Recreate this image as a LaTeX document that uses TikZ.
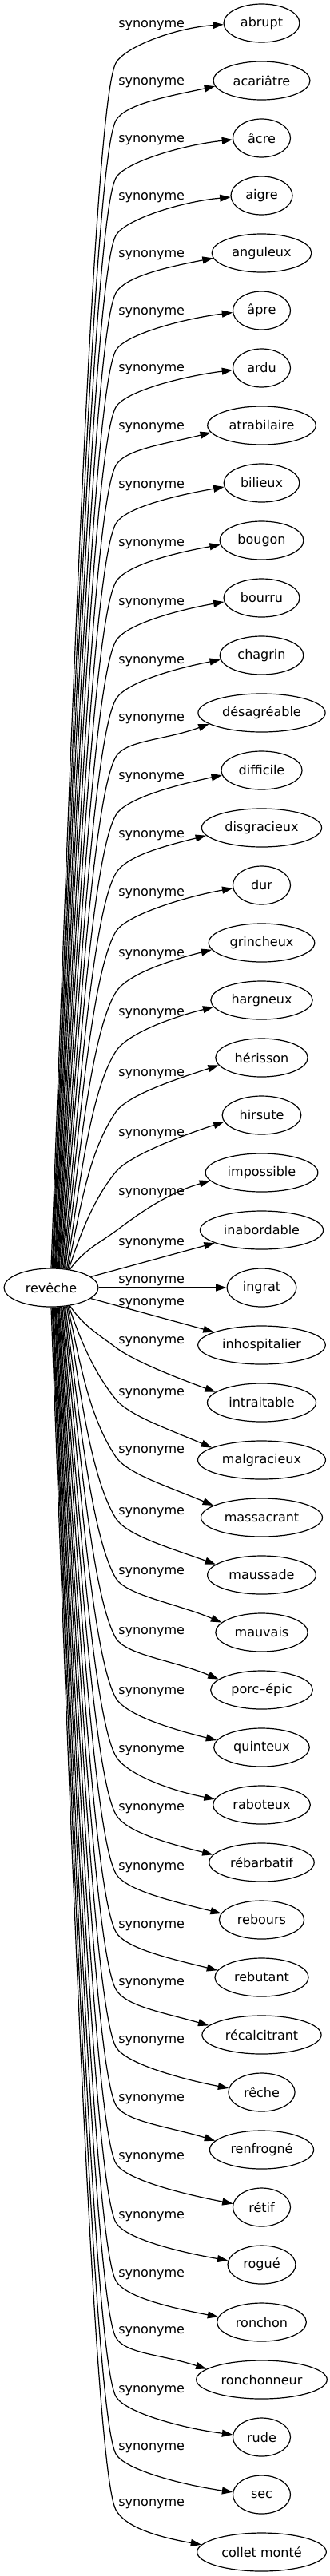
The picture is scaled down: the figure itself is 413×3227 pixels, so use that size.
\documentclass[tikz,border=0pt]{standalone}
\usepackage{fontspec}
\setmainfont{DejaVu Sans}
\usetikzlibrary{arrows.meta,shapes.geometric,calc}
\newcommand\myedge[5]{%
  \pgfmathsetmacro\yT{29+72*#1}%
  \pgfmathtruncatemacro\ts{#4*(90-46*#5/20)}%
  \pgfmathsetmacro\rr{59*24/sqrt((24*cos(\ts))^2+(59*sin(\ts))^2)}%
  \pgfmathsetmacro\Sx{64+\rr*cos(\ts)}%
  \pgfmathsetmacro\Sy{1613-\rr*sin(\ts)}%
  \pgfmathsetmacro\Qx{145}%
  \pgfmathsetmacro\Qy{#2+(#4>0?50:10)}%
  \pgfmathsetmacro\angA{atan2(\Sy-\Qy,\Qx-\Sx)}%
  \pgfmathsetmacro\angB{atan2(\Qy-\yT,265-\Qx)}%
  \pgfmathsetmacro\ph{0.6*\angA+0.4*\angB}%
  \pgfmathsetmacro\lenA{100*veclen((\Qx-\Sx)/100,(\Qy-\Sy)/100)}%
  \pgfmathsetmacro\lenB{100*veclen((265-\Qx)/100,(\yT-\Qy)/100)}%
  \pgfmathsetmacro\be{\angA+0.3*(90*#4-\angA)}%
  \pgfmathsetmacro\ca{0.39*\lenA}%
  \pgfmathsetmacro\cb{min(60,0.3*\lenA)}%
  \pgfmathsetmacro\cc{0.18*\lenB}%
  \pgfmathtruncatemacro\ta{180+0.6*#3*#4}%
  \draw[edge] (src.\ts) .. controls ({\Sx+\ca*cos(\be)},{\Sy-\ca*sin(\be)}) and ({\Qx-\cb*cos(\ph)},{\Qy+\cb*sin(\ph)}) .. (\Qx,\Qy)
    .. controls ({\Qx+\cc*cos(\ph)},{\Qy-\cc*sin(\ph)}) and ($(t#1.\ta)+({-60*cos(#3)},{60*#4*sin(#3)})$) .. (t#1.\ta);%
}
\begin{document}
\begin{tikzpicture}[x=0.75pt,y=-0.75pt,
  word/.style={draw, ellipse, line width=0.9pt, inner xsep=5.25pt, inner ysep=1pt,
    minimum width=54pt, minimum height=36pt, font=\fontsize{12pt}{14pt}\selectfont},
  lab/.style={font=\fontsize{12pt}{14pt}\selectfont, inner sep=0pt, anchor=base west},
  edge/.style={line width=0.9pt, -{Triangle[length=10pt,width=6.7pt]}}]
\useasboundingbox (0,0) rectangle (413,3227);
\node[word, minimum width=88.5pt] (src) at (64,1613) {revêche};
\foreach \w [count=\n from 0] in {abrupt,acariâtre,âcre,aigre,anguleux,âpre,ardu,atrabilaire,bilieux,bougon,bourru,chagrin,désagréable,difficile,disgracieux,dur,grincheux,hargneux,hérisson,hirsute,impossible,inabordable,ingrat,inhospitalier,intraitable,malgracieux,massacrant,maussade,mauvais,porc–épic,quinteux,raboteux,rébarbatif,rebours,rebutant,récalcitrant,rêche,renfrogné,rétif,rogué,ronchon,ronchonneur,rude,sec,collet monté}{
  \node[word] (t\n) at (327.5,{29+72*\n}) {\w};
}
\foreach \L [count=\n from 0] in {29,101,173,245,317,389,460,533,606,679,753,826,898,971,1044,1117,1193,1267,1343,1418,1492,1555,1602,1630,1678,1743,1815,1892,1967,2042,2117,2190,2263,2337,2410,2482,2554,2627,2700,2774,2847,2918,2992,3064,3134}{
  \node[lab] (l\n) at (148,\L+5) {synonyme};
}
\foreach \i/\L/\al in {0/29/4,1/101/12,2/173/6,3/245/5,4/317/11,5/389/7,6/460/7,7/533/14,8/606/10,9/679/10,10/753/10,11/826/11,12/898/20,13/971/12,14/1044/14,15/1117/10,16/1193/14,17/1267/14,18/1343/18,19/1418/18,20/1492/16}{
  \myedge{\i}{\L}{\al}{1}{\i}
}
\foreach \i/\L/\al in {24/1678/20,25/1743/23,26/1815/23,27/1892/20,28/1967/23,29/2042/23,30/2117/14,31/2190/11,32/2263/14,33/2337/14,34/2410/14,35/2482/16,36/2554/11,37/2627/17,38/2700/11,39/2774/10,40/2847/11,41/2918/18,42/2992/7,43/3064/8,44/3134/10}{
  \pgfmathtruncatemacro\kk{44-\i}
  \myedge{\i}{\L}{\al}{-1}{\kk}
}
\draw[edge] (src) -- (t21);
\draw[edge] (src) -- (t22);
\draw[edge] (src) -- (t23);
\end{tikzpicture}
\end{document}
